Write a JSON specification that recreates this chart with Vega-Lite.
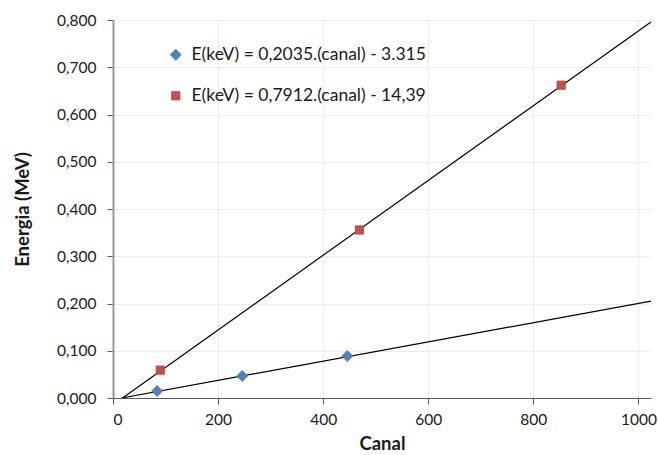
{
  "$schema": "https://vega.github.io/schema/vega-lite/v6.json",
  "width": 538,
  "height": 378,
  "autosize": {"type": "none"},
  "padding": {"left": 113, "top": 20, "right": 7, "bottom": 57},
  "background": "white",
  "config": {
    "font": "Lato",
    "view": {"stroke": null},
    "locale": {"number": {"decimal": ",", "thousands": ".", "grouping": [3], "currency": ["", " €"]}}
  },
  "datasets": {
    "points": [
      {"canal": 84, "energia": 0.0148, "serie": "E(keV) = 0,2035.(canal) - 3.315"},
      {"canal": 246, "energia": 0.0466, "serie": "E(keV) = 0,2035.(canal) - 3.315"},
      {"canal": 446, "energia": 0.0889, "serie": "E(keV) = 0,2035.(canal) - 3.315"},
      {"canal": 90, "energia": 0.059, "serie": "E(keV) = 0,7912.(canal) - 14,39"},
      {"canal": 469, "energia": 0.3556, "serie": "E(keV) = 0,7912.(canal) - 14,39"},
      {"canal": 853, "energia": 0.662, "serie": "E(keV) = 0,7912.(canal) - 14,39"}
    ],
    "lines": [
      {"canal": 16.3, "energia": 0, "fit": "a"},
      {"canal": 1024, "energia": 0.205, "fit": "a"},
      {"canal": 18.2, "energia": 0, "fit": "b"},
      {"canal": 1024, "energia": 0.796, "fit": "b"}
    ]
  },
  "layer": [
    {
      "data": {"name": "lines"},
      "mark": {"type": "line", "color": "#000000", "strokeWidth": 1.2, "clip": true},
      "encoding": {
        "x": {
          "field": "canal", "type": "quantitative",
          "scale": {"domain": [0, 1024], "nice": false},
          "axis": {
            "values": [0, 200, 400, 600, 800, 1000], "format": "d",
            "title": "Canal", "titleFont": "Lato", "titleFontSize": 18.5, "titleFontWeight": "bold", "titleColor": "#1a1a1a", "titlePadding": 7,
            "labelFontSize": 15.5, "labelColor": "#1a1a1a", "labelPadding": 8,
            "grid": true, "gridColor": "#ececec", "gridWidth": 1,
            "domainColor": "#595959", "domainWidth": 1.2,
            "tickColor": "#595959", "tickSize": 6
          }
        },
        "y": {
          "field": "energia", "type": "quantitative",
          "scale": {"domain": [0, 0.8], "nice": false},
          "axis": {
            "values": [0, 0.1, 0.2, 0.3, 0.4, 0.5, 0.6, 0.7, 0.8], "format": ".3f",
            "title": "Energia (MeV)", "titleFont": "Lato", "titleFontSize": 18.5, "titleFontWeight": "bold", "titleColor": "#1a1a1a", "titlePadding": 24,
            "labelFontSize": 15.5, "labelColor": "#1a1a1a", "labelPadding": 11,
            "grid": true, "gridColor": "#ececec", "gridWidth": 1,
            "domainColor": "#969696", "domainWidth": 2,
            "tickColor": "#595959", "tickSize": 6
          }
        },
        "detail": {"field": "fit", "type": "nominal"}
      }
    },
    {
      "data": {"name": "points"},
      "mark": {"type": "point", "filled": true, "opacity": 1},
      "encoding": {
        "x": {"field": "canal", "type": "quantitative"},
        "y": {"field": "energia", "type": "quantitative"},
        "color": {
          "field": "serie", "type": "nominal",
          "scale": {"range": ["#4F81BD", "#C0504D"]},
          "legend": {
            "title": null, "orient": "none", "legendX": 54, "legendY": 26,
            "labelFontSize": 17.5, "labelColor": "#1a1a1a", "labelFont": "Lato",
            "rowPadding": 22, "symbolSize": 60, "labelOffset": 7, "labelLimit": 400
          }
        },
        "shape": {
          "field": "serie", "type": "nominal",
          "scale": {"range": ["diamond", "square"]},
          "legend": null
        },
        "size": {
          "field": "serie", "type": "nominal",
          "scale": {"range": [140, 85]},
          "legend": null
        }
      }
    }
  ]
}
